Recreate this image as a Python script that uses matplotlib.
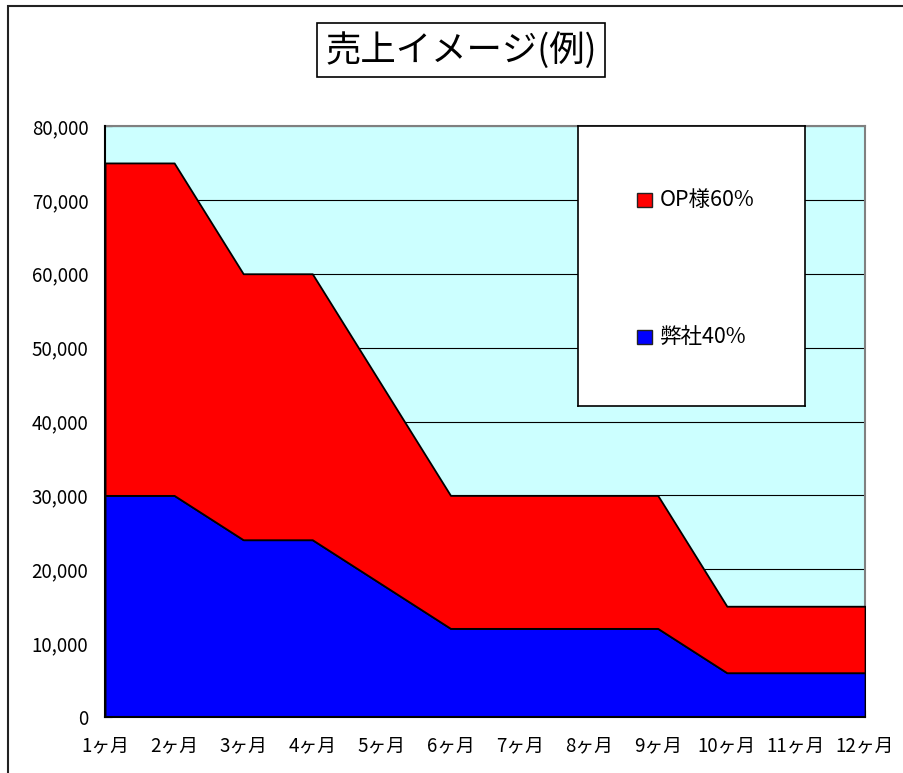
import numpy as np
import matplotlib.pyplot as plt
from matplotlib.patches import Rectangle
from matplotlib.ticker import FuncFormatter

plt.rcParams['font.family'] = ['Noto Sans CJK JP', 'DejaVu Sans']

months = ["1ヶ月", "2ヶ月", "3ヶ月", "4ヶ月", "5ヶ月", "6ヶ月",
          "7ヶ月", "8ヶ月", "9ヶ月", "10ヶ月", "11ヶ月", "12ヶ月"]
heisha = [30000, 30000, 24000, 24000, 18000, 12000,
          12000, 12000, 12000, 6000, 6000, 6000]        # 弊社40%
op = [45000, 45000, 36000, 36000, 27000, 18000,
      18000, 18000, 18000, 9000, 9000, 9000]            # OP様60%
labels = ["弊社40%", "OP様60%"]
colors = ["#0000FF", "#FF0000"]

fig = plt.figure(figsize=(9.04, 7.73), dpi=100)
ax = fig.add_axes([0.1162, 0.0724, 0.8407, 0.7646])

x = np.arange(len(months))
polys = ax.stackplot(x, heisha, op, colors=colors, edgecolor="black", linewidth=1.3, zorder=3)

ax.set_facecolor("#CCFFFF")
ax.set_xlim(0, len(months) - 1)
ax.set_ylim(0, 80000)
ax.set_yticks(np.arange(0, 80001, 10000))
ax.yaxis.set_major_formatter(FuncFormatter(lambda v, p: f"{int(v):,}"))
ax.set_xticks(x)
ax.set_xticklabels(months)
ax.grid(axis="y", color="black", linewidth=0.8, zorder=1)
ax.set_axisbelow(True)
ax.tick_params(axis="both", direction="in", length=5, labelsize=13.5, colors="black")
ax.tick_params(axis="x", pad=13)
ax.tick_params(axis="y", pad=12)
for s in ["left", "bottom"]:
    ax.spines[s].set_color("black")
    ax.spines[s].set_linewidth(1.5)
    ax.spines[s].set_zorder(5)
for s in ["top", "right"]:
    ax.spines[s].set_color("#808080")
    ax.spines[s].set_linewidth(1.5)

# 外枠
fig.patches.append(Rectangle((0.0094, -0.5), 2.0, 1.4916, transform=fig.transFigure,
                             fill=False, edgecolor="#222222", linewidth=1.5))

# タイトル
fig.text(0.510, 0.935, "売上イメージ(例)", fontsize=25.5, ha="center", va="center",
         bbox=dict(facecolor="white", edgecolor="black", linewidth=1.2, pad=6))

# 凡例
lax = fig.add_axes([0.6394, 0.4748, 0.2511, 0.3622])
lax.set_xlim(0, 1)
lax.set_ylim(0, 1)
lax.set_xticks([])
lax.set_yticks([])
for s in lax.spines.values():
    s.set_color("black")
    s.set_linewidth(1.2)
entries = [(labels[1], colors[1], 0.736), (labels[0], colors[0], 0.246)]
for lab, col, yy in entries:
    lax.add_patch(Rectangle((0.26, yy - 0.025), 0.064, 0.05, facecolor=col,
                            edgecolor="#222222", linewidth=1.0))
    lax.text(0.362, yy, lab, fontsize=15.5, va="center", ha="left")

fig.savefig("out.png", dpi=100)
